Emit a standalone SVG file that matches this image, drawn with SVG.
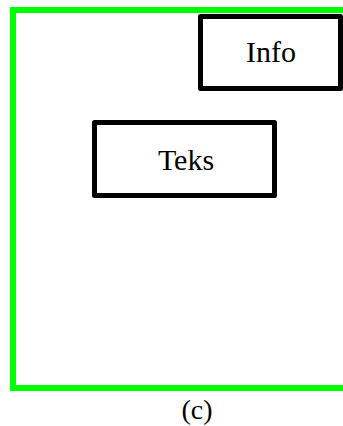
<svg xmlns="http://www.w3.org/2000/svg" width="343" height="426" viewBox="0 0 343 426">
<style>
.box{fill:#fff;stroke:#000;stroke-width:5;stroke-linejoin:round}
.lbl{font-family:"Liberation Serif","Times New Roman",serif;font-size:30px;fill:#000;text-anchor:middle}
</style>
<rect width="343" height="426" fill="#fff"/>
<g id="frame">
<rect x="13" y="10" width="340" height="378" fill="none" stroke="#00ff00" stroke-width="6"/>
</g>
<g id="info">
<rect class="box" x="200.5" y="16.5" width="140" height="72"/>
<text class="lbl" x="271" y="62">Info</text>
</g>
<g id="teks">
<rect class="box" x="94.5" y="122.5" width="180" height="73"/>
<text class="lbl" x="186" y="170">Teks</text>
</g>
<g id="connectors"/>
<text class="lbl" x="197" y="419" style="font-size:28px">(c)</text>
</svg>
